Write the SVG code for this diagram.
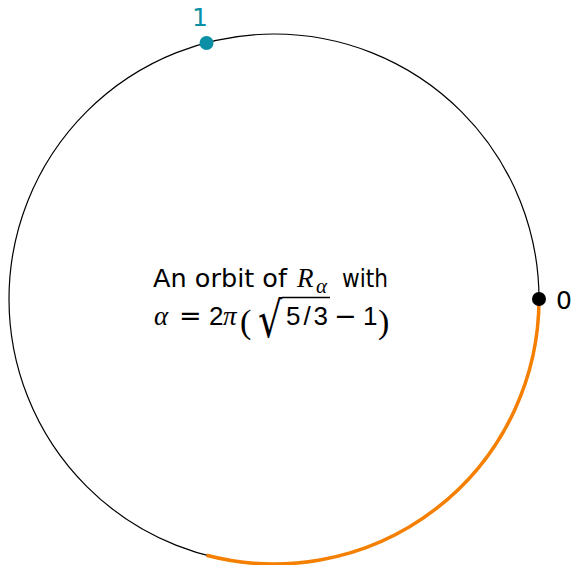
<svg xmlns="http://www.w3.org/2000/svg" width="573" height="565" viewBox="0 0 573 565">
<style>
.t{font-family:"DejaVu Sans","Liberation Sans",sans-serif;font-size:25px;fill:#000}
.d{font-family:"Liberation Sans","DejaVu Sans",sans-serif;font-size:26px;fill:#000}
.m{font-family:"Liberation Serif","DejaVu Serif",serif;font-size:27px;fill:#000}
.lab{font-family:"DejaVu Sans","Liberation Sans",sans-serif;font-size:25px}
</style>
<rect width="573" height="565" fill="#fff"/>
<g id="connectors">
<circle id="circle" cx="274" cy="299" r="265" fill="none" stroke="#000" stroke-width="1.2"/>
<path id="orbit-arc" d="M539,299 A265,265 0 0 1 206.5,555.3" fill="none" stroke="#f57f00" stroke-width="3.5"/>
</g>
<g id="node-0">
<circle cx="539" cy="299" r="7" fill="#000"/>
<text class="lab" x="556" y="309" fill="#000">0</text>
</g>
<g id="node-1">
<circle cx="206.5" cy="43" r="7" fill="#0a8fa6"/>
<text class="lab" x="192" y="26" fill="#0a8fa6">1</text>
</g>
<g id="label">
<text class="t" x="153" y="287" textLength="134" lengthAdjust="spacingAndGlyphs">An orbit of</text>
<text class="m" x="297" y="287" font-style="italic">R</text>
<text class="m" x="316" y="293" font-style="italic" style="font-size:21px">α</text>
<text class="t" x="342" y="287" textLength="46" lengthAdjust="spacingAndGlyphs">with</text>
<text class="m" x="154" y="325" font-style="italic">α</text>
<text class="t" x="179" y="325" style="font-size:27px">=</text>
<text class="d" x="209" y="325">2</text>
<text class="m" x="223" y="325" font-style="italic">π</text>
<text class="m" x="240" y="333" style="font-size:34px">(</text>
<text class="t" x="258" y="337" style="font-size:38px" transform="translate(0,337) scale(1,1.3) translate(0,-337)">√</text>
<line x1="282" y1="297.5" x2="330" y2="297.5" stroke="#000" stroke-width="1.3"/>
<text class="d" x="286" y="325" textLength="42" lengthAdjust="spacing">5/3</text>
<text class="t" x="334" y="325" style="font-size:27px">−</text>
<text class="d" x="363" y="325">1</text>
<text class="m" x="378" y="333" style="font-size:34px">)</text>
</g>
</svg>
